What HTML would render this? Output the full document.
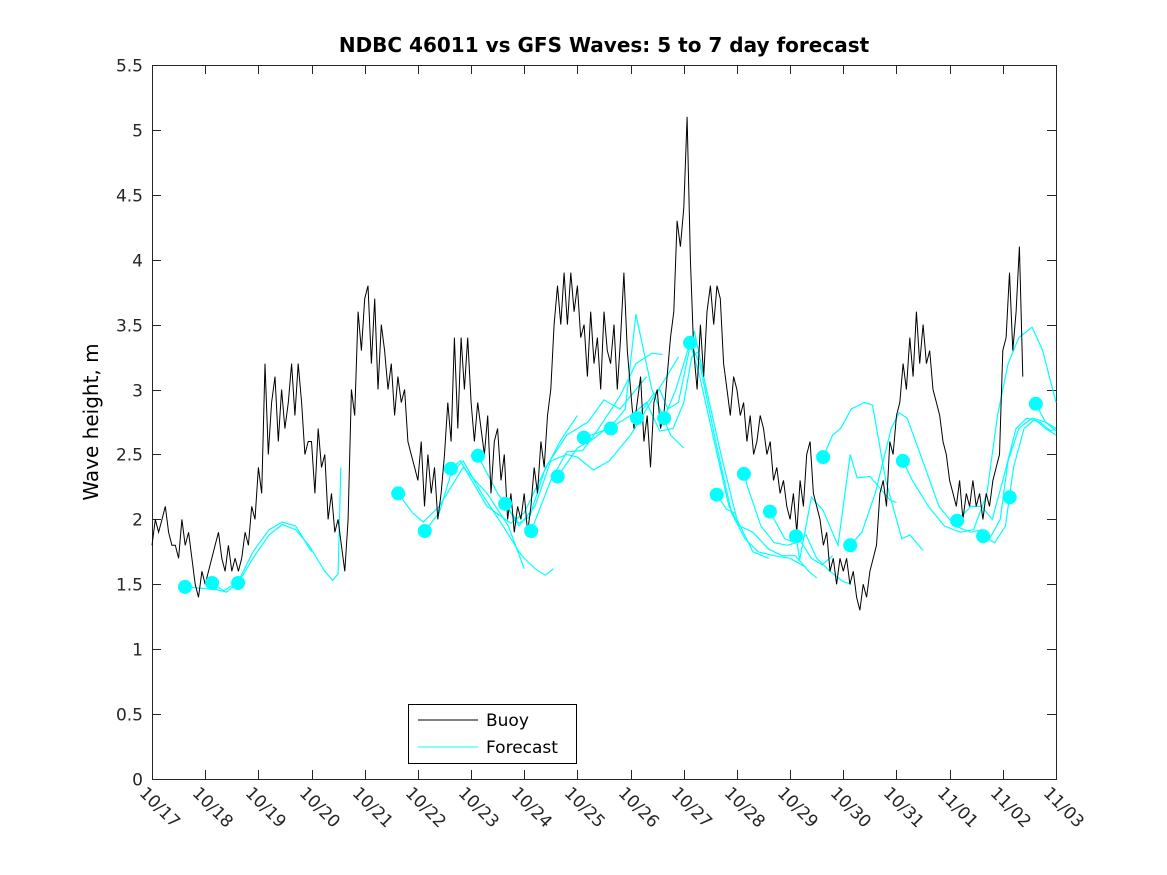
<!DOCTYPE html>
<html><head><meta charset="utf-8"><style>
body{margin:0;background:#fff;}
svg{display:block;font-family:"DejaVu Sans","Liberation Sans",sans-serif;}
</style></head><body>
<svg id="chart" width="1167" height="875" viewBox="0 0 1167 875" xmlns="http://www.w3.org/2000/svg">
<rect width="1167" height="875" fill="#fff"/>
<text x="604" y="52" text-anchor="middle" font-size="20" font-weight="bold">NDBC 46011 vs GFS Waves: 5 to 7 day forecast</text>
<text transform="translate(98,422) rotate(-90)" text-anchor="middle" font-size="20">Wave height, m</text>
<g id="axes"></g>
<g id="forecast"></g>
<g id="buoy"></g>
<g id="dots"></g>
<g>
<rect x="408.5" y="704.5" width="168" height="59" fill="#fff" stroke="#000" stroke-width="1"/>
<line x1="418" y1="720" x2="478" y2="720" stroke="#000" stroke-width="1"/>
<text x="486" y="726" font-size="17">Buoy</text>
<line x1="418" y1="747" x2="478" y2="747" stroke="#00ffff" stroke-width="1"/>
<text x="486" y="753" font-size="17">Forecast</text>
</g>
</svg>
<script>
const xTickLabels=["10/17","10/18","10/19","10/20","10/21","10/22","10/23","10/24","10/25","10/26","10/27","10/28","10/29","10/30","10/31","11/01","11/02","11/03"];
const yTicks=[0,0.5,1,1.5,2,2.5,3,3.5,4,4.5,5,5.5];
const yTickLabels=["0","0.5","1","1.5","2","2.5","3","3.5","4","4.5","5","5.5"];
// buoy values every 1/16 day starting 10/17 00:00
const buoyValues=[
1.8,2.0,1.9,2.0,2.1,1.9,1.8,1.8,1.7,2.0,1.8,1.9,1.7,1.5,1.4,1.6,
1.5,1.6,1.7,1.8,1.9,1.7,1.6,1.8,1.6,1.7,1.6,1.7,1.9,1.8,2.1,2.0,
2.4,2.2,3.2,2.5,2.9,3.1,2.6,3.0,2.7,2.9,3.2,2.8,3.2,2.9,2.5,2.6,
2.6,2.2,2.7,2.4,2.5,2.0,2.2,1.9,2.0,1.8,1.6,2.0,3.0,2.8,3.6,3.3,
3.7,3.8,3.2,3.7,3.0,3.5,3.3,3.0,3.2,2.8,3.1,2.9,3.0,2.6,2.5,2.4,
2.3,2.6,2.1,2.5,2.2,2.4,2.0,2.2,2.5,2.9,2.6,3.4,2.7,3.4,3.0,3.4,
2.9,2.6,2.9,2.7,2.5,2.8,2.2,2.6,2.7,2.3,2.5,2.0,2.2,1.9,2.1,2.0,
2.2,1.9,2.1,2.4,2.2,2.6,2.4,2.8,3.0,3.5,3.8,3.5,3.9,3.5,3.9,3.6,
3.8,3.4,3.5,3.1,3.6,3.2,3.4,3.0,3.6,3.3,3.2,3.5,3.0,3.4,3.9,3.3,
3.0,2.7,2.9,3.1,2.6,2.8,2.4,2.9,3.0,2.7,2.8,3.1,3.4,3.6,4.3,4.1,
4.4,5.1,4.0,3.3,3.0,3.5,3.1,3.6,3.8,3.5,3.8,3.7,3.2,3.0,2.8,3.1,
3.0,2.8,2.9,2.6,2.8,2.5,2.6,2.8,2.7,2.5,2.6,2.3,2.4,2.2,2.3,2.1,
2.0,2.2,1.9,2.3,2.1,2.5,2.6,2.2,2.1,2.0,1.8,1.9,1.6,1.7,1.5,1.7,
1.6,1.7,1.5,1.6,1.4,1.3,1.5,1.4,1.6,1.7,1.8,2.2,2.3,2.1,2.6,2.5,
2.8,2.9,3.2,3.0,3.4,3.1,3.6,3.2,3.5,3.2,3.3,3.0,2.9,2.8,2.6,2.5,
2.3,2.2,2.1,2.3,2.0,2.2,2.1,2.3,2.1,2.2,2.0,2.2,2.1,2.3,2.4,2.5,
3.3,3.4,3.9,3.3,3.6,4.1,3.1];
const buoyStep=1/16;
// forecast traces: [day, height]
const forecastTraces=[
[[0.62,1.48],[0.9,1.47],[1.2,1.46],[1.4,1.44],[1.62,1.51],[1.9,1.7],[2.2,1.88],[2.45,1.96],[2.7,1.92],[2.95,1.8],[3.25,1.6],[3.4,1.53],[3.5,1.58],[3.55,2.4]],
[[1.13,1.51],[1.35,1.45],[1.62,1.52],[1.9,1.75],[2.2,1.92],[2.45,1.98],[2.7,1.95],[3.0,1.75]],
[[4.63,2.2],[4.9,2.05],[5.1,1.98],[5.4,2.1],[5.85,2.4],[6.3,2.2],[6.7,1.95],[7.0,1.62]],
[[5.13,1.91],[5.4,2.05],[5.62,2.35],[5.85,2.45],[6.2,2.2],[6.6,1.95],[6.95,1.72],[7.2,1.62],[7.4,1.57],[7.55,1.62]],
[[5.62,2.39],[5.8,2.45],[6.3,2.1],[6.75,1.97],[7.0,2.05],[7.35,2.35],[7.7,2.62],[8.0,2.8]],
[[6.13,2.49],[6.5,2.2],[6.9,1.97],[7.1,2.02],[7.4,2.4],[7.8,2.65],[8.2,2.75],[8.5,2.92],[8.8,2.85],[9.1,3.0],[9.3,3.1]],
[[6.64,2.12],[6.9,1.95],[7.2,2.1],[7.5,2.45],[7.8,2.5],[8.0,2.48],[8.3,2.38],[8.6,2.45],[9.0,2.65],[9.3,2.85],[9.6,3.05],[9.9,3.25]],
[[7.13,1.91],[7.5,2.3],[7.8,2.52],[8.1,2.53],[8.4,2.7],[8.8,2.95],[9.1,3.2],[9.4,3.28],[9.6,3.27]],
[[7.63,2.33],[8.0,2.55],[8.3,2.62],[8.7,2.75],[8.9,2.85],[9.1,3.58],[9.4,3.0],[9.75,2.65],[10.0,2.55]],
[[8.12,2.63],[8.6,2.7],[9.0,2.8],[9.3,2.9],[9.55,2.68],[9.8,2.7],[10.0,2.9],[10.15,3.25],[10.3,3.3]],
[[9.12,2.78],[9.4,2.95],[9.55,3.0],[9.7,2.85],[9.9,2.9],[10.1,3.3],[10.2,3.45],[10.4,3.05],[10.7,2.5],[11.0,2.0],[11.3,1.75],[11.6,1.7]],
[[9.63,2.78],[9.85,3.0],[10.12,3.36],[10.3,3.2],[10.6,2.6],[10.9,2.05],[11.15,1.85],[11.4,1.75],[11.7,1.72],[12.0,1.7],[12.3,1.63]],
[[10.12,3.36],[10.3,3.1],[10.6,2.55],[10.85,2.1],[11.05,1.95],[11.3,1.9],[11.6,1.77],[11.85,1.72],[12.1,1.72],[12.35,1.6],[12.5,1.55]],
[[10.62,2.19],[10.8,2.08],[10.95,2.05]],
[[11.13,2.35],[11.2,2.25],[11.45,1.95],[11.7,1.82],[11.95,1.8],[12.2,1.83],[12.4,1.7],[12.6,1.65],[12.8,1.72]],
[[11.62,2.06],[11.9,1.85],[12.1,1.82],[12.3,1.88],[12.5,1.7],[12.75,1.6],[13.0,1.52],[13.15,1.5]],
[[12.11,1.87],[12.18,1.69],[12.4,2.17],[12.62,2.07],[12.9,1.8],[13.13,2.5],[13.26,2.32],[13.5,2.33],[13.88,2.15],[14.0,2.13]],
[[12.62,2.48],[12.8,2.65],[12.95,2.7],[13.15,2.85],[13.4,2.9],[13.55,2.88],[13.8,2.3],[14.1,1.85],[14.25,1.88],[14.5,1.76]],
[[13.13,1.8],[13.35,1.9],[13.6,2.2],[13.9,2.7],[14.05,2.82],[14.2,2.78],[14.45,2.5],[14.8,2.1],[15.1,1.95],[15.4,1.9],[15.6,1.92],[15.75,1.85],[15.95,2.0],[16.1,2.45],[16.3,2.7],[16.55,2.78],[16.8,2.75],[17.0,2.68]],
[[14.12,2.45],[14.3,2.3],[14.6,2.1],[14.9,1.95],[15.2,1.9],[15.45,1.92],[15.7,2.2],[15.9,2.8],[16.1,3.2],[16.3,3.4],[16.55,3.48],[16.75,3.3],[17.0,2.9]],
[[15.14,1.99],[15.4,2.1],[15.6,2.1],[15.8,2.0],[16.0,2.3],[16.25,2.7],[16.45,2.78],[16.7,2.75],[16.9,2.68],[17.0,2.7]],
[[15.63,1.87],[15.85,1.82],[16.05,1.95],[16.2,2.4],[16.4,2.7],[16.6,2.77],[16.8,2.7],[17.0,2.65]],
[[16.62,2.89],[16.8,2.75],[17.0,2.7]]
];
const dotDays=[0.62,1.13,1.62,4.63,5.13,5.62,6.13,6.64,7.13,7.63,8.12,8.63,9.12,9.63,10.12,10.62,11.13,11.62,12.11,12.62,13.13,14.12,15.14,15.63,16.13,16.62];
const dotValues=[1.48,1.51,1.51,2.2,1.91,2.39,2.49,2.12,1.91,2.33,2.63,2.7,2.78,2.78,3.36,2.19,2.35,2.06,1.87,2.48,1.8,2.45,1.99,1.87,2.17,2.89];

const X0=152,X1=1056,Y0=779,Y1=65,DAYS=17,YMAX=5.5;
const xs=d=>X0+(X1-X0)*d/DAYS;
const ys=v=>Y0-(Y0-Y1)*v/YMAX;
const NS="http://www.w3.org/2000/svg";
function mk(tag,attrs,parent){const e=document.createElementNS(NS,tag);for(const k in attrs)e.setAttribute(k,attrs[k]);parent.appendChild(e);return e;}

const axes=document.getElementById('axes');
const frame=mk('rect',{x:X0+0.5,y:Y1+0.5,width:X1-X0,height:Y0-Y1,fill:'none',stroke:'#262626','stroke-width':1},axes);


yTicks.forEach((v,i)=>{
  const y=Math.round(ys(v))+0.5;
  const t=mk('path',{d:`M${X0} ${y}H${X0+9}M${X1} ${y}H${X1-9}`,stroke:'#262626','stroke-width':1},axes);
  
  
  const l=mk('text',{x:X0-9,y:y+6,'text-anchor':'end','font-size':17,fill:'#262626'},axes);
  l.textContent=yTickLabels[i];
  
  
});
xTickLabels.forEach((s,i)=>{
  const x=Math.round(xs(i))+0.5;
  const t=mk('path',{d:`M${x} ${Y0}V${Y0-9}M${x} ${Y1}V${Y1+9}`,stroke:'#262626','stroke-width':1},axes);
  
  
  const l=mk('text',{transform:`translate(${x-14},${Y0+15}) rotate(45)`,'font-size':17,fill:'#262626'},axes);
  l.textContent=s;
  
  
});

const fg=document.getElementById('forecast');
forecastTraces.forEach(tr=>{
  const p=mk('polyline',{points:tr.map(q=>xs(q[0]).toFixed(1)+','+ys(q[1]).toFixed(1)).join(' '),fill:'none',stroke:'#00ffff','stroke-width':1.2},fg);
  
  
});
const bg=document.getElementById('buoy');
const bl=mk('polyline',{points:buoyValues.map((v,i)=>xs(i*buoyStep).toFixed(1)+','+ys(v).toFixed(1)).join(' '),fill:'none',stroke:'#000','stroke-width':1},bg);


const dg=document.getElementById('dots');
dotDays.forEach((d,i)=>{
  const c=mk('circle',{cx:xs(d).toFixed(1),cy:ys(dotValues[i]).toFixed(1),r:7,fill:'#00ffff'},dg);
  
  
});
</script>
</body></html>
